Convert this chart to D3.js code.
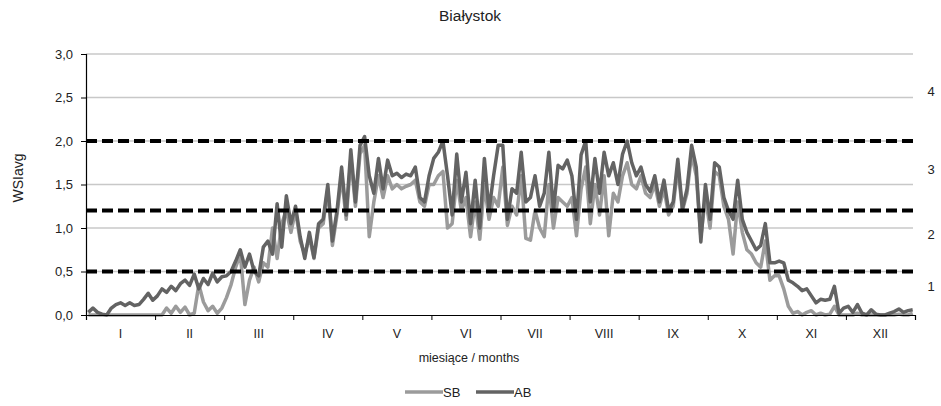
<html>

<head>
    <title>Białystok</title>
    <script src="https://d3js.org/d3.v7.min.js"></script>
    <style>
        body { margin: 0; background: #fff; }
        text { font-family: "Liberation Sans", Arial, sans-serif; fill: #222; }
    </style>
</head>

<body>
    <div id="myPlot"></div>
    <script>
        // month labels (x axis categories)
        var months = ["I", "II", "III", "IV", "V", "VI", "VII", "VIII", "IX", "X", "XI", "XII"];

        // y axis tick values
        var yTicks = [0, 0.5, 1.0, 1.5, 2.0, 2.5, 3.0];

        // threshold lines between classes
        var thresholds = [0.5, 1.2, 2.0];
        var classLabels = ["1", "2", "3", "4"];

        // WSIavg, ~every 2 days (15 values per month)
        var SB = [
            0, 0, 0, 0, 0, 0, 0, 0, 0, 0, 0, 0, 0, 0, 0,
            0.0, 0.0, 0.08, 0.02, 0.1, 0.03, 0.09, 0.0, 0.02, 0.35, 0.15, 0.05, 0.1, 0.02, 0.08,
            0.2, 0.35, 0.55, 0.7, 0.12, 0.4, 0.55, 0.38, 0.6, 0.55, 1.0, 0.65, 1.05, 1.2, 0.95,
            1.2, 0.85, 0.7, 0.9, 0.65, 1.0, 1.05, 1.45, 0.8, 1.15, 1.6, 1.1, 1.8, 1.25, 1.85,
            1.95, 0.9, 1.3, 1.6, 1.35, 1.6, 1.45, 1.5, 1.45, 1.48, 1.5, 1.55, 1.3, 1.25, 1.5,
            1.5, 1.6, 1.65, 1.0, 1.05, 1.55, 1.2, 1.35, 0.9, 1.3, 0.87, 1.5, 1.1, 1.35, 1.25,
            1.7, 1.03, 1.25, 1.15, 1.6, 0.88, 0.86, 1.2, 1.0, 0.9, 1.5, 1.0, 1.35, 1.3, 1.25,
            1.35, 0.91, 1.45, 1.7, 1.05, 1.5, 1.15, 1.6, 0.91, 1.4, 1.3, 1.6, 1.75, 1.5, 1.45,
            1.6, 1.4, 1.35, 1.5, 1.25, 1.45, 1.15, 1.25, 1.7, 1.2, 1.4, 1.85, 1.6, 0.9, 1.35,
            1.0, 1.65, 1.6, 1.25, 1.1, 0.7, 1.3, 0.95, 0.75, 0.7, 0.6, 0.55, 0.85, 0.4, 0.45,
            0.45, 0.3, 0.1, 0.02, 0.04, 0.0, 0.03, 0.05, 0.0, 0.02, 0.0, 0.01, 0.1, 0.0, 0.0,
            0, 0, 0.02, 0, 0, 0, 0, 0, 0, 0, 0, 0.01, 0, 0, 0.02
        ];

        var AB = [
            0.03, 0.08, 0.03, 0.01, 0.0, 0.08, 0.12, 0.14, 0.11, 0.14, 0.11, 0.12, 0.18, 0.25, 0.17,
            0.22, 0.3, 0.26, 0.33, 0.28, 0.36, 0.4, 0.34, 0.47, 0.3, 0.42, 0.35, 0.48, 0.38, 0.44,
            0.45, 0.5, 0.62, 0.75, 0.55, 0.7, 0.5, 0.45, 0.78, 0.85, 0.7, 1.28, 0.78, 1.37, 1.05,
            1.25, 0.9, 0.65, 0.95, 0.66, 1.05, 1.1, 1.5, 0.85, 1.2, 1.7, 1.15, 1.9, 1.3, 1.95,
            2.05, 1.6, 1.4, 1.8, 1.45, 1.78, 1.6, 1.63, 1.58, 1.62, 1.6, 1.7, 1.35, 1.3, 1.6,
            1.8, 1.87, 2.0, 1.6, 1.15, 1.85, 1.3, 1.64, 1.05, 1.55, 1.0, 1.8, 1.2, 1.6, 1.95,
            1.95, 1.1, 1.45, 1.4, 1.87, 1.3, 1.35, 1.6, 1.25, 1.4, 1.87, 1.2, 1.72, 1.68, 1.78,
            1.6, 1.1, 1.84, 2.0, 1.3, 1.8, 1.4, 1.87, 1.6, 1.75, 1.5, 1.85, 2.0, 1.75, 1.6,
            1.7, 1.5, 1.42, 1.6, 1.3, 1.55, 1.2, 1.3, 1.79, 1.22, 1.45, 1.95, 1.7, 0.84, 1.5,
            1.1, 1.75, 1.7, 1.35, 1.2, 1.1, 1.55, 1.1, 0.95, 0.85, 0.75, 0.8, 1.05, 0.6, 0.6,
            0.62, 0.6, 0.4, 0.37, 0.33, 0.28, 0.3, 0.22, 0.14, 0.18, 0.17, 0.18, 0.33, 0.02, 0.08,
            0.1, 0.03, 0.12, 0.02, 0.0, 0.06, 0.01, 0.0, 0.0, 0.02, 0.04, 0.07, 0.03, 0.05, 0.06
        ];

        var series = [
            { name: "SB", values: SB, color: "#9b9b9b" },
            { name: "AB", values: AB, color: "#636363" }
        ];

        var width = 941, height = 406;
        var margin = { left: 86, right: 26, top: 54, bottom: 91 };

        var svg = d3.select("#myPlot").append("svg")
            .attr("width", width)
            .attr("height", height);

        // scales
        var xMonth = d3.scaleBand()
            .domain(months)
            .range([margin.left, width - margin.right]);

        var xScale = d3.scaleLinear()
            .domain([0, SB.length])
            .range([margin.left, width - margin.right]);

        var yScale = d3.scaleLinear()
            .domain([0, 3])
            .range([height - margin.bottom, margin.top]);

        // light horizontal gridlines
        svg.append("g")
            .selectAll("line")
            .data(yTicks.slice(1))
            .enter()
            .append("line")
            .attr("x1", margin.left)
            .attr("x2", width - margin.right - 2)
            .attr("y1", function (d) { return yScale(d); })
            .attr("y2", function (d) { return yScale(d); })
            .attr("stroke", "#c8c8c8")
            .attr("stroke-width", 1.5);

        // data lines
        var line = d3.line()
            .x(function (d, i) { return xScale(i + 0.5); })
            .y(function (d) { return yScale(d); });

        svg.append("g")
            .selectAll("path")
            .data(series)
            .enter()
            .append("path")
            .attr("d", function (d) { return line(d.values); })
            .attr("fill", "none")
            .attr("stroke", function (d) { return d.color; })
            .attr("stroke-width", 3.5)
            .attr("stroke-linejoin", "round");

        // dashed class thresholds
        svg.append("g")
            .selectAll("line")
            .data(thresholds)
            .enter()
            .append("line")
            .attr("x1", margin.left)
            .attr("x2", width - margin.right - 2)
            .attr("y1", function (d) { return yScale(d); })
            .attr("y2", function (d) { return yScale(d); })
            .attr("stroke", "#000")
            .attr("stroke-width", 4)
            .attr("stroke-dasharray", "11,5");

        // y axis
        var yAxis = d3.axisLeft(yScale)
            .tickValues(yTicks)
            .tickSize(5)
            .tickFormat(function (d) { return d3.format(".1f")(d).replace(".", ","); });

        var gy = svg.append("g")
            .attr("transform", "translate(" + margin.left + ",0)")
            .call(yAxis);
        gy.select(".domain").attr("stroke", "#000").attr("stroke-width", 1.2);
        gy.selectAll(".tick line").attr("stroke", "#000");
        gy.selectAll(".tick text")
            .attr("x", -13)
            .style("font-size", "13px")
            .attr("fill", "#222");

        // x axis: ticks on month boundaries, labels centred in month
        var xAxis = d3.axisBottom(xScale)
            .tickValues(d3.range(0, SB.length + 1, 15))
            .tickSize(5)
            .tickFormat("");

        var gx = svg.append("g")
            .attr("transform", "translate(0," + yScale(0) + ")")
            .call(xAxis);
        gx.select(".domain").attr("stroke", "#000").attr("stroke-width", 1.2);
        gx.selectAll(".tick line").attr("stroke", "#000");

        svg.append("g")
            .selectAll("text")
            .data(months)
            .enter()
            .append("text")
            .attr("x", function (d) { return xMonth(d) + xMonth.bandwidth() / 2; })
            .attr("y", yScale(0) + 23)
            .attr("text-anchor", "middle")
            .style("font-size", "12.5px")
            .text(function (d) { return d; });

        // class numbers on the right, centred in each band
        var bounds = [0].concat(thresholds).concat([3]);
        svg.append("g")
            .selectAll("text")
            .data(classLabels)
            .enter()
            .append("text")
            .attr("x", width - 10)
            .attr("y", function (d, i) { return yScale((bounds[i] + bounds[i + 1]) / 2) - 2; })
            .attr("text-anchor", "middle")
            .style("font-size", "13px")
            .text(function (d) { return d; });

        // titles
        svg.append("text")
            .attr("x", 470)
            .attr("y", 21)
            .attr("text-anchor", "middle")
            .style("font-size", "15.5px")
            .text("Białystok");

        svg.append("text")
            .attr("transform", "translate(23,178) rotate(-90)")
            .attr("text-anchor", "middle")
            .style("font-size", "14px")
            .text("WSIavg");

        svg.append("text")
            .attr("x", 469)
            .attr("y", 362)
            .attr("text-anchor", "middle")
            .style("font-size", "12.5px")
            .text("miesiące / months");

        // legend
        var legend = svg.append("g")
            .selectAll("g")
            .data(series)
            .enter()
            .append("g")
            .attr("transform", function (d, i) { return "translate(" + (405 + i * 71) + ",392)"; });

        legend.append("line")
            .attr("x1", 0)
            .attr("x2", 38)
            .attr("stroke", function (d) { return d.color; })
            .attr("stroke-width", 3.5);

        legend.append("text")
            .attr("x", 38)
            .attr("y", 5)
            .style("font-size", "13px")
            .text(function (d) { return d.name; });
    </script>
</body>

</html>
